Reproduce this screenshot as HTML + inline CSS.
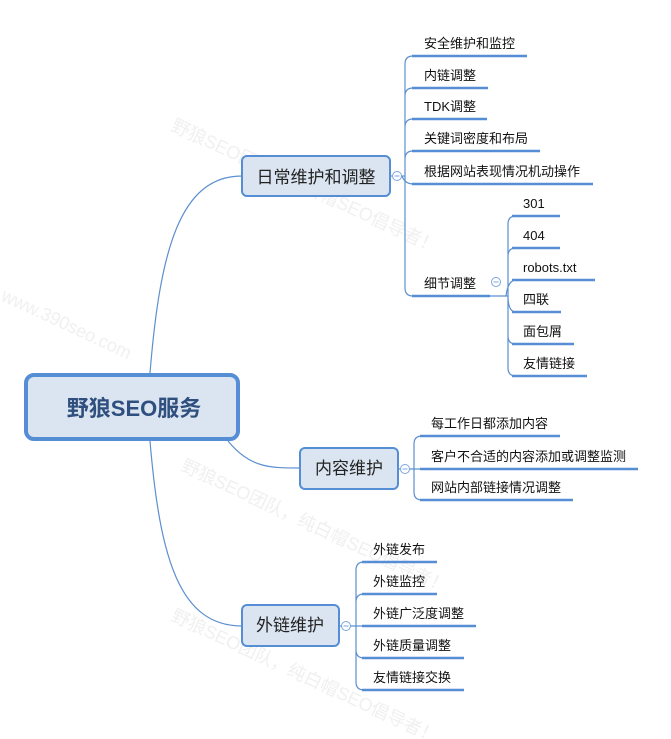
<!DOCTYPE html>
<html><head><meta charset="utf-8"><style>
html,body{margin:0;padding:0;background:#fff;}
svg{display:block;font-family:"Liberation Sans","Noto Sans CJK SC",sans-serif;}
.l{fill:none;stroke:#5b8fd0;stroke-width:1.2}
.u{stroke:#558ed5;stroke-width:2.5}
.t{font-size:13px;fill:#111}
</style></head><body>
<svg width="671" height="739" viewBox="0 0 671 739" xmlns="http://www.w3.org/2000/svg">
<g fill="#e6e6e6" font-size="18" opacity="0.6">
<text x="170" y="130" transform="rotate(25 170 130)">野狼SEO团队，纯白帽SEO倡导者！</text>
<text x="0" y="300" transform="rotate(25 0 300)">www.390seo.com</text>
<text x="180" y="470" transform="rotate(25 180 470)">野狼SEO团队，纯白帽SEO倡导者！</text>
<text x="170" y="620" transform="rotate(25 170 620)">野狼SEO团队，纯白帽SEO倡导者！</text>
</g>
<!-- root connectors -->
<path class="l" d="M150 373 C160 250,180 176,242 176"/>
<path class="l" d="M228 441 C250 468,270 468,300 468"/>
<path class="l" d="M150 441 C160 560,180 626,242 626"/>
<!-- root -->
<rect x="26" y="375" width="212" height="64" rx="8" fill="#dbe5f1" stroke="#558ed5" stroke-width="4"/>
<text x="134" y="416" text-anchor="middle" font-size="22" font-weight="bold" fill="#2f4f7f">野狼SEO服务</text>
<!-- 日常 -->
<rect x="242" y="156" width="148" height="40" rx="5" fill="#dbe5f1" stroke="#558ed5" stroke-width="2"/>
<text x="316" y="183" text-anchor="middle" font-size="17" fill="#222">日常维护和调整</text>
<line class="l" x1="390" y1="176" x2="405" y2="176"/>
<circle cx="397" cy="176" r="4.5" fill="#fff" stroke="#7aa6dc"/><line x1="394.5" y1="176" x2="399.5" y2="176" stroke="#7aa6dc"/>
<path class="l" d="M405 176 V64 Q405 56 413 56 M405 176 V96 Q405 88 413 88 M405 176 V127 Q405 119 413 119 M405 176 V159 Q405 151 413 151 M402 176 Q405 184 413 184 M405 176 V288 Q405 296 413 296"/>
<line class="u" x1="412" y1="56" x2="527" y2="56"/><text class="t" x="424" y="48">安全维护和监控</text>
<line class="u" x1="412" y1="88" x2="488" y2="88"/><text class="t" x="424" y="80">内链调整</text>
<line class="u" x1="412" y1="119" x2="487" y2="119"/><text class="t" x="424" y="111">TDK调整</text>
<line class="u" x1="412" y1="151" x2="540" y2="151"/><text class="t" x="424" y="143">关键词密度和布局</text>
<line class="u" x1="412" y1="184" x2="593" y2="184"/><text class="t" x="424" y="176">根据网站表现情况机动操作</text>
<line class="u" x1="412" y1="296" x2="490" y2="296"/><text class="t" x="424" y="288">细节调整</text>
<line class="l" x1="490" y1="296" x2="508" y2="296"/>
<circle cx="496" cy="282" r="4.5" fill="#fff" stroke="#7aa6dc"/><line x1="493.5" y1="282" x2="498.5" y2="282" stroke="#7aa6dc"/>
<path class="l" d="M508 296 V224 Q508 216 516 216 M508 296 V256 Q508 248 516 248 M506 296 Q508 280 516 280 M508 296 Q508 312 516 312 M508 296 V336 Q508 344 516 344 M508 296 V368 Q508 376 516 376"/>
<line class="u" x1="512" y1="216" x2="560" y2="216"/><text class="t" x="523" y="208">301</text>
<line class="u" x1="512" y1="248" x2="560" y2="248"/><text class="t" x="523" y="240">404</text>
<line class="u" x1="512" y1="280" x2="595" y2="280"/><text class="t" x="523" y="272">robots.txt</text>
<line class="u" x1="512" y1="312" x2="561" y2="312"/><text class="t" x="523" y="304">四联</text>
<line class="u" x1="512" y1="344" x2="574" y2="344"/><text class="t" x="523" y="336">面包屑</text>
<line class="u" x1="512" y1="376" x2="587" y2="376"/><text class="t" x="523" y="368">友情链接</text>
<!-- 内容 -->
<rect x="300" y="448" width="98" height="41" rx="5" fill="#dbe5f1" stroke="#558ed5" stroke-width="2"/>
<text x="349" y="474" text-anchor="middle" font-size="17" fill="#222">内容维护</text>
<line class="l" x1="398" y1="469" x2="420" y2="469"/>
<circle cx="405" cy="469" r="4.5" fill="#fff" stroke="#7aa6dc"/><line x1="402.5" y1="469" x2="407.5" y2="469" stroke="#7aa6dc"/>
<path class="l" d="M414 469 V444 Q414 436 422 436 M414 469 V492 Q414 500 422 500"/>
<line class="u" x1="420" y1="436" x2="560" y2="436"/><text class="t" x="431" y="428">每工作日都添加内容</text>
<line class="u" x1="420" y1="469" x2="638" y2="469"/><text class="t" x="431" y="461">客户不合适的内容添加或调整监测</text>
<line class="u" x1="420" y1="500" x2="573" y2="500"/><text class="t" x="431" y="492">网站内部链接情况调整</text>
<!-- 外链 -->
<rect x="242" y="605" width="97" height="41" rx="5" fill="#dbe5f1" stroke="#558ed5" stroke-width="2"/>
<text x="290" y="631" text-anchor="middle" font-size="17" fill="#222">外链维护</text>
<line class="l" x1="339" y1="626" x2="362" y2="626"/>
<circle cx="346" cy="626" r="4.5" fill="#fff" stroke="#7aa6dc"/><line x1="343.5" y1="626" x2="348.5" y2="626" stroke="#7aa6dc"/>
<path class="l" d="M356 626 V570 Q356 562 364 562 M356 626 V602 Q356 594 364 594 M356 626 V650 Q356 658 364 658 M356 626 V682 Q356 690 364 690"/>
<line class="u" x1="362" y1="562" x2="437" y2="562"/><text class="t" x="373" y="554">外链发布</text>
<line class="u" x1="362" y1="594" x2="437" y2="594"/><text class="t" x="373" y="586">外链监控</text>
<line class="u" x1="362" y1="626" x2="476" y2="626"/><text class="t" x="373" y="618">外链广泛度调整</text>
<line class="u" x1="362" y1="658" x2="464" y2="658"/><text class="t" x="373" y="650">外链质量调整</text>
<line class="u" x1="362" y1="690" x2="464" y2="690"/><text class="t" x="373" y="682">友情链接交换</text>
</svg>
</body></html>
